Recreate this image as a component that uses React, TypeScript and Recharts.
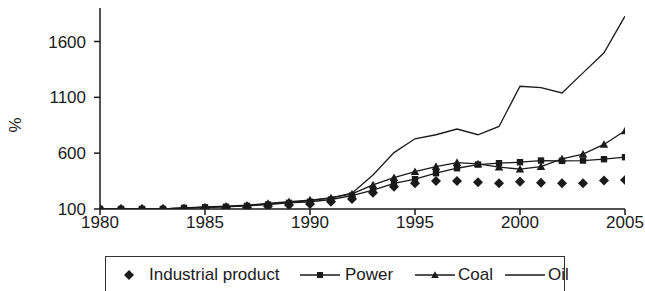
import React from 'react';
import { LineChart, Line, XAxis, YAxis, Legend } from 'recharts';

const years = [1980, 1981, 1982, 1983, 1984, 1985, 1986, 1987, 1988, 1989, 1990, 1991, 1992, 1993, 1994, 1995, 1996, 1997, 1998, 1999, 2000, 2001, 2002, 2003, 2004, 2005];
const industrialProduct = [100, 100, 100, 100, 100, 105, 110, 115, 125, 135, 145, 165, 190, 245, 300, 330, 350, 350, 340, 330, 345, 335, 330, 330, 355, 360];
const power = [100, 100, 100, 100, 110, 115, 120, 128, 140, 155, 165, 185, 220, 270, 330, 367, 421, 465, 498, 510, 519, 534, 531, 534, 546, 564];
const coal = [100, 100, 100, 100, 110, 118, 125, 135, 150, 165, 180, 200, 235, 316, 381, 435, 480, 516, 504, 475, 457, 480, 549, 591, 678, 800];
const oil = [100, 100, 100, 100, 108, 115, 122, 130, 145, 160, 175, 200, 241, 405, 605, 729, 765, 816, 765, 839, 1199, 1187, 1139, 1319, 1499, 1827];
const yTicks = [100, 600, 1100, 1600];
const xTicks = [1980, 1985, 1990, 1995, 2000, 2005];
const seriesNames = ['Industrial product', 'Power', 'Coal', 'Oil'];

const data = years.map((year, i) => ({
  year,
  industrial: industrialProduct[i],
  power: power[i],
  coal: coal[i],
  oil: oil[i],
}));

const INK = '#1a1a1a';
const FONT = '"Liberation Sans", Arial, sans-serif';

const diamondPath = (cx: number, cy: number, r: number) =>
  `M${cx},${cy - r}L${cx + r},${cy}L${cx},${cy + r}L${cx - r},${cy}Z`;
const squarePath = (cx: number, cy: number, r: number) =>
  `M${cx - r},${cy - r}L${cx + r},${cy - r}L${cx + r},${cy + r}L${cx - r},${cy + r}Z`;
const trianglePath = (cx: number, cy: number, r: number) =>
  `M${cx},${cy - r}L${cx + r},${cy + r * 0.8}L${cx - r},${cy + r * 0.8}Z`;

const makeDot = (kind: string) => (props: any) => {
  const { cx, cy, index } = props;
  if (cx == null || cy == null) return <g key={`${kind}-${index}`} />;
  let d = '';
  if (kind === 'diamond') d = diamondPath(cx, cy, 5);
  else if (kind === 'square') d = squarePath(cx, cy, 3.2);
  else d = trianglePath(cx, cy, 4.2);
  return <path key={`${kind}-${index}`} d={d} fill={INK} stroke="none" />;
};

const LegendBox = () => {
  const textStyle: React.CSSProperties = {
    position: 'absolute',
    top: 7,
    fontSize: 17,
    fontFamily: FONT,
    color: INK,
    lineHeight: '22px',
    whiteSpace: 'nowrap',
  };
  const icon = (left: number, kind: string) => (
    <svg style={{ position: 'absolute', left, top: 8 }} width={40} height={20}>
      <line x1={0} y1={10} x2={40} y2={10} stroke={INK} strokeWidth={1.3} />
      {kind === 'square' && <path d={squarePath(20, 10, 3)} fill={INK} />}
      {kind === 'triangle' && <path d={trianglePath(20, 10, 3.8)} fill={INK} />}
    </svg>
  );
  return (
    <div
      style={{
        position: 'relative',
        width: 460,
        height: 50,
        border: '1.5px solid #333',
        boxSizing: 'border-box',
        background: '#fff',
      }}
    >
      <svg style={{ position: 'absolute', left: 13, top: 8 }} width={20} height={20}>
        <path d={diamondPath(10, 10, 5)} fill={INK} />
      </svg>
      <span style={{ ...textStyle, left: 43 }}>{seriesNames[0]}</span>
      {icon(194, 'square')}
      <span style={{ ...textStyle, left: 239 }}>{seriesNames[1]}</span>
      {icon(309, 'triangle')}
      <span style={{ ...textStyle, left: 352 }}>{seriesNames[2]}</span>
      {icon(399, 'none')}
      <span style={{ ...textStyle, left: 442 }}>{seriesNames[3]}</span>
    </div>
  );
};

export default function App() {
  return (
    <div style={{ position: 'absolute', left: 0, top: 0, width: 645, height: 291, background: '#fff' }}>
      <LineChart
        width={645}
        height={291}
        data={data}
        margin={{ top: 8, right: 20, bottom: 52, left: 40 }}
      >
        <XAxis
          dataKey="year"
          type="number"
          domain={[1980, 2005]}
          ticks={xTicks}
          interval={0}
          allowDataOverflow
          height={30}
          tickSize={6}
          tickMargin={1}
          axisLine={{ stroke: INK, strokeWidth: 1.5 }}
          tickLine={{ stroke: INK, strokeWidth: 1.5 }}
          tick={{ fill: INK, fontSize: 17, fontFamily: FONT }}
        />
        <YAxis
          type="number"
          domain={[100, 1900]}
          ticks={yTicks}
          interval={0}
          allowDataOverflow
          width={60}
          tickSize={6}
          tickMargin={8}
          axisLine={{ stroke: INK, strokeWidth: 1.5 }}
          tickLine={{ stroke: INK, strokeWidth: 1.5 }}
          tick={{ fill: INK, fontSize: 17, fontFamily: FONT }}
          label={{
            content: () => (
              <text
                x={15}
                y={125}
                transform="rotate(-90 15 125)"
                textAnchor="middle"
                dominantBaseline="central"
                fontSize={17}
                fontFamily={FONT}
                fill={INK}
              >
                %
              </text>
            ),
          }}
        />
        <Legend
          layout="horizontal"
          verticalAlign="middle"
          align="center"
          wrapperStyle={{ top: 256, left: 105, width: 460 }}
          content={() => <LegendBox />}
        />
        <Line
          dataKey="oil"
          name={seriesNames[3]}
          type="linear"
          stroke={INK}
          strokeWidth={1.3}
          dot={false}
          activeDot={false}
          isAnimationActive={false}
        />
        <Line
          dataKey="coal"
          name={seriesNames[2]}
          type="linear"
          stroke={INK}
          strokeWidth={1.3}
          dot={makeDot('triangle')}
          activeDot={false}
          isAnimationActive={false}
        />
        <Line
          dataKey="power"
          name={seriesNames[1]}
          type="linear"
          stroke={INK}
          strokeWidth={1.3}
          dot={makeDot('square')}
          activeDot={false}
          isAnimationActive={false}
        />
        <Line
          dataKey="industrial"
          name={seriesNames[0]}
          type="linear"
          stroke="none"
          dot={makeDot('diamond')}
          activeDot={false}
          isAnimationActive={false}
        />
      </LineChart>
    </div>
  );
}
